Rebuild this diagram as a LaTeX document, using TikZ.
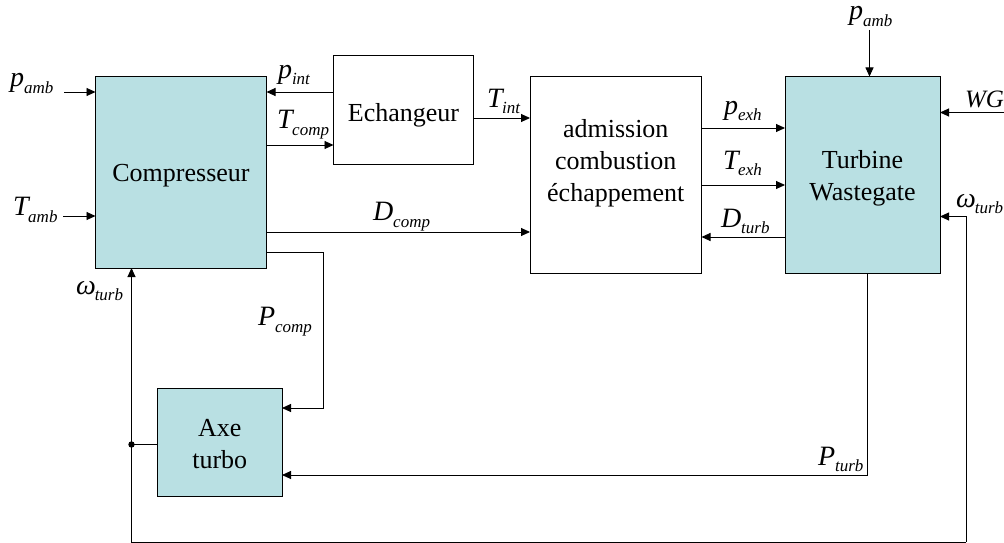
\documentclass[tikz,border=0pt]{standalone}
\usepackage{fontspec}
\setmainfont{Liberation Serif}
\usetikzlibrary{arrows.meta}
\newcommand{\lab}[3][-2pt]{\textit{#2}\kern#1\raisebox{-6.5pt}{\fontsize{17}{17}\selectfont\textit{#3}}}
\tikzset{
  x=1pt,y=-1pt,
  blockbox/.style={draw=black,line width=0.9pt,outer sep=0pt,inner sep=0pt},
  tealbox/.style={blockbox,fill=tealfill},
  sig/.style={line width=0.9pt,-{Triangle[length=9pt,width=8pt]}},
  plain/.style={line width=0.9pt},
  varlab/.style={anchor=base west,inner sep=0pt,outer sep=0pt,font=\fontsize{28}{28}\selectfont},
  boxtext/.style={anchor=center,inner sep=0pt,outer sep=0pt,align=center,font=\fontsize{26}{32}\selectfont},
}
\definecolor{tealfill}{HTML}{B9E0E3}
\begin{document}
\begin{tikzpicture}
\useasboundingbox (0,0) rectangle (1004,543);
\node[tealbox,minimum width=171pt,minimum height=191.5pt] (comp) at (181,172.25) {};
\node[blockbox,minimum width=140pt,minimum height=108.5pt] (ech) at (403.5,109.75) {};
\node[blockbox,minimum width=171.5pt,minimum height=196.5pt] (adm) at (615.75,174.75) {};
\node[tealbox,minimum width=155pt,minimum height=196.5pt] (turb) at (862.5,174.75) {};
\node[tealbox,minimum width=124.5pt,minimum height=108pt] (axe) at (219.75,442) {};
\node[boxtext] (compt) at (181,175.25) {Compresseur};
\node[boxtext] (echt) at (403.5,115.25) {Echangeur};
\node[boxtext] (admt) at (615.75,163) {admission\\combustion\\échappement};
\node[boxtext] (turbt) at (862.5,178.75) {Turbine\\Wastegate};
\node[boxtext] (axet) at (219.75,444.5) {Axe\\turbo};
\coordinate (pambin) at (64,92);
\coordinate (tambin) at (63,216);
\coordinate (ptop) at (869.5,30);
\coordinate (wgin) at (1004,112.5);
\coordinate (wbend) at (966,216.5);
\coordinate (wbot) at (966,542);
\coordinate (wbl) at (131.5,542);
\coordinate (pcompbend) at (323,252);
\coordinate (pcompend) at (323,408);
\coordinate (pturbbend) at (867.5,475);
\draw[sig] (pambin) -- (comp.west |- pambin);
\draw[sig] (tambin) -- (comp.west |- tambin);
\draw[sig] (ech.west |- 0,92) -- (comp.east |- 0,92);
\draw[sig] (comp.east |- 0,145) -- (ech.west |- 0,145);
\draw[sig] (comp.east |- 0,232) -- (adm.west |- 0,232);
\draw[sig] (comp.east |- pcompbend) -- (pcompbend) -- (pcompend) -- (axe.east |- pcompend);
\draw[sig] (ech.east |- 0,118) -- (adm.west |- 0,118);
\draw[sig] (adm.east |- 0,128) -- (turb.west |- 0,128);
\draw[sig] (adm.east |- 0,185) -- (turb.west |- 0,185);
\draw[sig] (turb.west |- 0,237) -- (adm.east |- 0,237);
\draw[sig] (ptop) -- (ptop |- turb.north);
\draw[sig] (wgin) -- (turb.east |- wgin);
\draw[sig] (wbot) -- (wbend) -- (turb.east |- wbend);
\draw[sig] (pturbbend |- turb.south) -- (pturbbend) -- (axe.east |- pturbbend);
\draw[sig] (wbot) -- (wbl) -- (wbl |- comp.south);
\fill (131.5,444.5) circle (3.2pt) coordinate (junction);
\draw[plain] (axe.west |- junction) -- (junction);
\node[varlab] (l1) at (10,87) {\lab[0pt]{p}{amb}};
\node[varlab] (l2) at (13,215.5) {\lab{T}{amb}};
\node[varlab] (l3) at (278,78) {\lab[0pt]{p}{int}};
\node[varlab] (l4) at (277,128.5) {\lab{T}{comp}};
\node[varlab] (l5) at (373,220.5) {\lab[0pt]{D}{comp}};
\node[varlab] (l6) at (487,107) {\lab{T}{int}};
\node[varlab] (l7) at (724,114) {\lab[0pt]{p}{exh}};
\node[varlab] (l8) at (723,169) {\lab{T}{exh}};
\node[varlab] (l9) at (721,227) {\lab[0pt]{D}{turb}};
\node[varlab] (l10) at (849,20) {\lab[0pt]{p}{amb}};
\node[varlab,font=\fontsize{25}{25}\selectfont] (l11) at (965,107) {\textit{WG}};
\node[varlab] (l12) at (956,207) {\lab[-1pt]{ω}{turb}};
\node[varlab] (l13) at (76,294) {\lab[-1pt]{ω}{turb}};
\node[varlab] (l14) at (258,325.5) {\lab[0pt]{P}{comp}};
\node[varlab] (l15) at (818,465) {\lab[0pt]{P}{turb}};
\end{tikzpicture}
\end{document}
